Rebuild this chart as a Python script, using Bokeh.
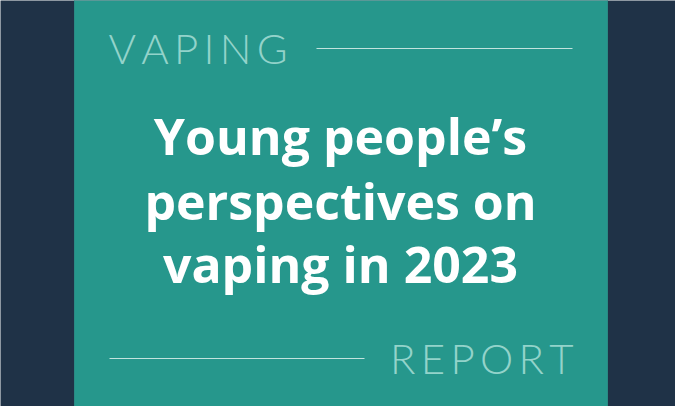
from bokeh.plotting import figure
from bokeh.models import Range1d
from bokeh.core.properties import value
from bokeh.embed import file_html
from bokeh.resources import INLINE

# Content
kicker = "VAPING"
footer = "REPORT"
title_lines = ["Young people\u2019s", "perspectives on", "vaping in 2023"]

# Colours
BG = "#1f3247"
TEAL = "#26978c"
SOFT = "#93d3ca"
RULE = "#c2e3de"

W, H = 675, 406
p = figure(width=W, height=H, output_backend="svg", toolbar_location=None,
           x_range=Range1d(8, 683), y_range=Range1d(414, 8),
           min_border=0, background_fill_color=BG, border_fill_color=BG)
p.axis.visible = False
p.grid.visible = False
p.outline_line_color = None

# teal panel
p.quad(left=[82], right=[615], top=[7], bottom=[414], fill_color=TEAL, line_color="#2a8a84", line_width=1)

def spaced(s):
    return "\u2009".join(list(s))

LIGHT = value("'Lato Light', Lato")

# kicker and footer
p.text(x=[116], y=[55], text=[spaced(kicker)], text_font=LIGHT,
       text_font_size="42px", text_color=SOFT, text_baseline="alphabetic", text_align="left")
p.segment(x0=[324], y0=[56], x1=[580], y1=[56], line_color=RULE, line_width=1.2)

p.text(x=[581], y=[365], text=[spaced(footer)], text_font=LIGHT,
       text_font_size="42px", text_color=SOFT, text_baseline="alphabetic", text_align="right")
p.segment(x0=[117], y0=[366], x1=[372], y1=[366], line_color=RULE, line_width=1.2)

# title
p.text(x=[348] * 3, y=[143, 208, 271], text=title_lines, text_font=value("Open Sans"),
       text_font_style="bold", text_font_size="50px", text_color="white",
       text_baseline="alphabetic", text_align="center")

open("out.html", "w").write(file_html(p, INLINE))
